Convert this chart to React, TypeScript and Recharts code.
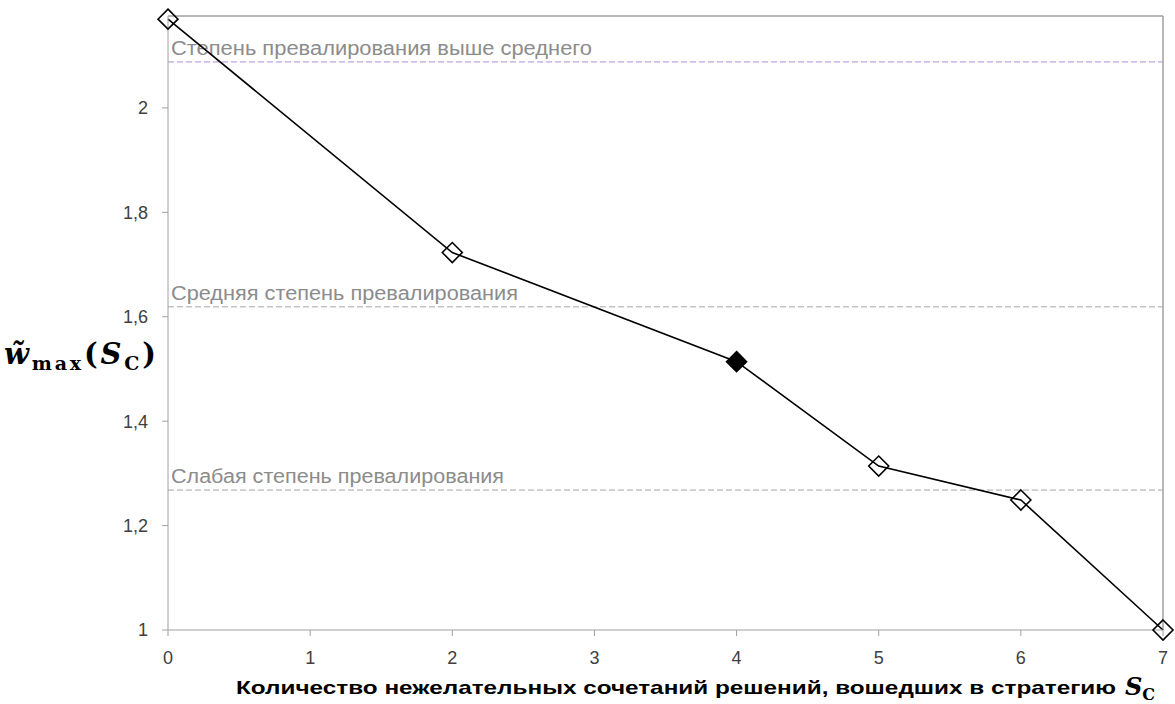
import React from 'react';
import { LineChart, Line, XAxis, YAxis, ReferenceLine } from 'recharts';

// values
const counts = [0, 2, 4, 5, 6, 7];
const wMax = [2.17, 1.723, 1.514, 1.314, 1.249, 1.0];
const filledAt = [4];

const xTicks = [0, 1, 2, 3, 4, 5, 6, 7];
const yTicks = [1, 1.2, 1.4, 1.6, 1.8, 2];
const yTop = 2.176;

const levels = [
  { value: 2.088, text: 'Степень превалирования выше среднего', color: '#a98fd6', width: 421 },
  { value: 1.619, text: 'Средняя степень превалирования', color: '#a6a6a6', width: 347 },
  { value: 1.268, text: 'Слабая степень превалирования', color: '#a6a6a6', width: 333 },
];

const xTitle = 'Количество нежелательных сочетаний решений, вошедших в стратегию';

const data = counts.map((c, i) => ({ x: c, y: wMax[i] }));

const fmt = (v: number) => String(v).replace('.', ',');

function XTick(props: any) {
  const { x, y, payload } = props;
  return (
    <text x={x} y={y} dy="0.71em" textAnchor="middle" fill="#404040" fontSize={18} fontFamily="Liberation Sans, sans-serif">
      {fmt(payload.value)}
    </text>
  );
}

function YTick(props: any) {
  const { x, y, payload } = props;
  return (
    <text x={x} y={y} dy="0.36em" textAnchor="end" fill="#404040" fontSize={18} fontFamily="Liberation Sans, sans-serif">
      {fmt(payload.value)}
    </text>
  );
}

function Diamond(props: any) {
  const { cx, cy, payload } = props;
  if (cx == null || cy == null) return null;
  const r = 10;
  const filled = filledAt.includes(payload.x);
  return (
    <path
      key={`d-${payload.x}`}
      d={`M${cx},${cy - r} L${cx + r},${cy} L${cx},${cy + r} L${cx - r},${cy} Z`}
      fill={filled ? '#000' : 'none'}
      stroke="#000"
      strokeWidth={1.6}
    />
  );
}

function levelLabel(text: string, width: number) {
  return (props: any) => {
    const vb = props.viewBox;
    return (
      <text
        x={vb.x + 3}
        y={vb.y - 7}
        fill="#8c8c8c"
        fontSize={20}
        fontFamily="Liberation Sans, sans-serif"
        textLength={width}
        lengthAdjust="spacingAndGlyphs"
      >
        {text}
      </text>
    );
  };
}

export default function App() {
  return (
    <div style={{ position: 'absolute', left: 0, top: 0, background: '#fff' }}>
      <LineChart width={1175} height={704} data={data} margin={{ top: 16, right: 12, bottom: 0, left: 0 }}>
        <XAxis
          dataKey="x"
          type="number"
          domain={[0, 7]}
          ticks={xTicks}
          interval={0}
          height={74}
          stroke="#a0a0a0"
          tickSize={6}
          tick={XTick}
          tickMargin={15}
          label={(p: any) => {
            const vb = p.viewBox;
            const y = vb.y + 64;
            return (
              <g>
                <text
                  x={236}
                  y={y}
                  fontSize={19}
                  fontWeight="bold"
                  fill="#000"
                  fontFamily="Liberation Sans, sans-serif"
                  textLength={880}
                  lengthAdjust="spacingAndGlyphs"
                >
                  {xTitle}
                </text>
                <text x={1125} y={y + 1} fontFamily="DejaVu Serif, serif" fontWeight="bold" fontStyle="italic" fill="#000">
                  <tspan fontSize={24}>S</tspan>
                  <tspan fontSize={16} fontStyle="normal" dy={5}>С</tspan>
                </text>
              </g>
            );
          }}
        />
        <YAxis
          type="number"
          domain={[1, yTop]}
          ticks={yTicks}
          interval={0}
          width={168}
          stroke="#a0a0a0"
          tickSize={6}
          tick={YTick}
          tickMargin={14}
          label={() => (
            <text
              x={4}
              y={364}
              fontFamily="DejaVu Serif, serif"
              fontWeight="bold"
              fill="#000"
              textLength={152}
              lengthAdjust="spacing"
            >
              <tspan fontSize={29} fontStyle="italic">w̃</tspan>
              <tspan fontSize={19} dy={6}>max</tspan>
              <tspan fontSize={29} dy={-6}>(</tspan>
              <tspan fontSize={29} fontStyle="italic">S</tspan>
              <tspan fontSize={19} dy={6}>C</tspan>
              <tspan fontSize={29} dy={-6}>)</tspan>
            </text>
          )}
        />
        <ReferenceLine y={yTop} stroke="#a0a0a0" strokeWidth={1.5} />
        <ReferenceLine x={7} stroke="#a0a0a0" strokeWidth={1.5} />
        {levels.map((l) => (
          <ReferenceLine
            key={l.text}
            y={l.value}
            stroke={l.color}
            strokeDasharray="6 3"
            label={levelLabel(l.text, l.width)}
          />
        ))}
        <Line
          dataKey="y"
          stroke="#000"
          strokeWidth={1.6}
          dot={Diamond}
          activeDot={false}
          isAnimationActive={false}
        />
      </LineChart>
    </div>
  );
}
